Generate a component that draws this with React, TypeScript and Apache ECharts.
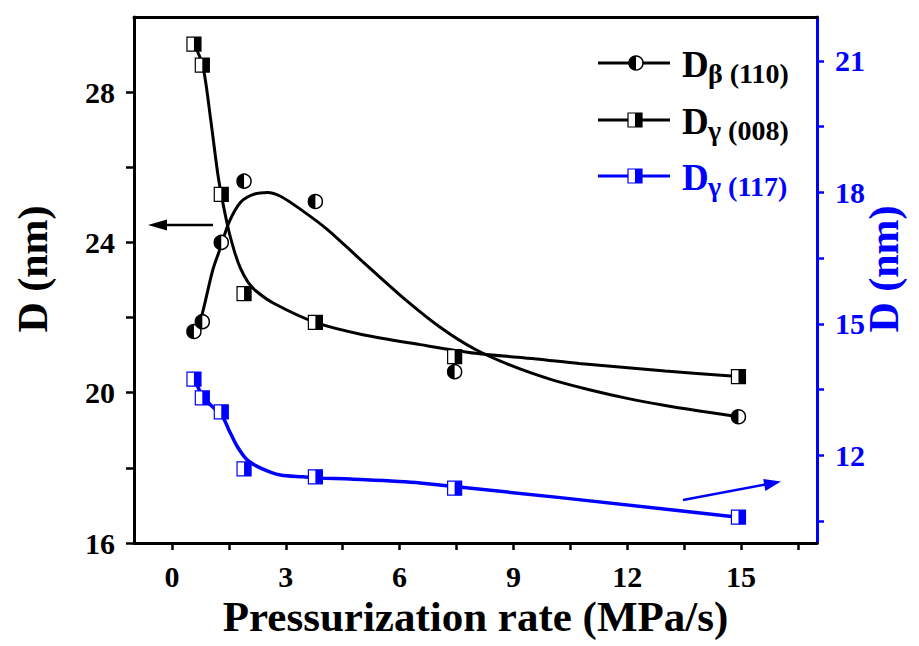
import React, { useEffect, useRef } from 'react';
import * as echarts from 'echarts';

// Measured points
const rateB110 = [0.58, 0.8, 1.3, 1.9, 3.78, 7.45, 14.93];
const dB110 = [21.63, 21.89, 24.0, 25.63, 25.09, 20.56, 19.36];
const rateG008 = [0.58, 0.8, 1.3, 1.9, 3.78, 7.45, 14.93];
const dG008 = [29.28, 28.72, 25.28, 22.64, 21.87, 20.96, 20.43];
const rateG117 = [0.58, 0.8, 1.3, 1.9, 3.78, 7.45, 14.93];
const dG117 = [13.74, 13.31, 12.99, 11.69, 11.51, 11.25, 10.59];

// Fitted curves
const fitB110X = [0.68, 0.89, 1.08, 1.29, 1.5, 1.81, 2.15, 2.52, 2.86, 3.39, 4.09, 4.96, 6.01, 7.06, 8.0, 9.0, 10.0, 11.0, 12.0, 13.0, 14.0, 14.93];
const fitB110Y = [21.6, 22.48, 23.28, 23.89, 24.53, 25.07, 25.28, 25.33, 25.23, 24.88, 24.35, 23.55, 22.6, 21.75, 21.15, 20.7, 20.35, 20.08, 19.85, 19.66, 19.5, 19.36];
const fitG008X = [0.58, 0.81, 1.02, 1.23, 1.47, 1.65, 1.81, 2.0, 2.2, 2.68, 3.78, 5.0, 6.54, 8.0, 9.6, 10.73, 13.0, 14.93];
const fitG008Y = [29.28, 28.72, 27.28, 25.68, 24.43, 23.75, 23.3, 22.95, 22.72, 22.38, 21.87, 21.55, 21.28, 21.05, 20.9, 20.78, 20.58, 20.43];
const fitG117X = [0.58, 0.84, 1.02, 1.34, 1.5, 1.73, 1.99, 2.34, 2.86, 3.46, 3.91, 4.7, 6.54, 14.93];
const fitG117Y = [13.74, 13.31, 13.15, 12.87, 12.58, 12.19, 11.89, 11.71, 11.55, 11.51, 11.48, 11.46, 11.37, 10.59];

// Axis ticks / labels
const xTicks = [0, 1.5, 3, 4.5, 6, 7.5, 9, 10.5, 12, 13.5, 15, 16.5];
const xLabels = [0, 3, 6, 9, 12, 15];
const yLeftTicks = [16, 18, 20, 22, 24, 26, 28];
const yLeftLabels = [16, 20, 24, 28];
const yRightTicks = [10.5, 12, 13.5, 15, 16.5, 18, 19.5, 21];
const yRightLabels = [12, 15, 18, 21];

const BLUE = '#0000ff';
const FONT = '"Liberation Serif", "Times New Roman", serif';

const zip = (xs: number[], ys: number[]) => xs.map((x, i) => [x, ys[i]]);

const circleMarker = (color: string, cx: number, cy: number, r = 7) => ({
  type: 'group',
  children: [
    { type: 'circle', shape: { cx, cy, r }, style: { fill: '#fff', stroke: color, lineWidth: 1.5 } },
    {
      type: 'sector',
      shape: { cx, cy, r0: 0, r, startAngle: Math.PI / 2, endAngle: Math.PI * 1.5, clockwise: true },
      style: { fill: color },
    },
  ],
});

const squareMarker = (color: string, cx: number, cy: number, s = 14) => ({
  type: 'group',
  children: [
    { type: 'rect', shape: { x: cx - s / 2, y: cy - s / 2, width: s, height: s }, style: { fill: '#fff', stroke: color, lineWidth: 1.2 } },
    { type: 'rect', shape: { x: cx, y: cy - s / 2, width: s / 2, height: s }, style: { fill: color } },
  ],
});

export default function App() {
  const ref = useRef<HTMLDivElement>(null);
  useEffect(() => {
    document.body.style.margin = '0';
    const chart = echarts.init(ref.current!, null, { renderer: 'svg' });

    const tickLabel = (color: string) => ({
      fontSize: 30,
      fontWeight: 'bold',
      fontFamily: FONT,
      color,
    });

    const legendRow = (y: number, color: string, kind: 'circle' | 'square', sub: string) => [
      { type: 'line', shape: { x1: 598, y1: y, x2: 670, y2: y }, style: { stroke: color, lineWidth: 3 } },
      kind === 'circle' ? circleMarker(color, 636, y) : squareMarker(color, 635, y),
      {
        type: 'text',
        x: 682,
        y: y + 1,
        style: { text: 'D', fontSize: 37, fontWeight: 'bold', fontFamily: FONT, fill: color, verticalAlign: 'middle', align: 'left' },
      },
      {
        type: 'text',
        x: 708,
        y: y + 10,
        style: { text: sub, fontSize: 28, fontWeight: 'bold', fontFamily: FONT, fill: color, verticalAlign: 'middle', align: 'left' },
      },
    ];

    chart.setOption({
      animation: false,
      backgroundColor: '#fff',
      grid: { left: 134, right: 102, top: 17, bottom: 103, containLabel: false, outerBoundsMode: 'none' },
      xAxis: [
        {
          type: 'value',
          min: -1,
          max: 17,
          position: 'bottom',
          axisLine: { onZero: false, lineStyle: { color: '#000', width: 3 } },
          axisTick: { customValues: xTicks, length: 7, lineStyle: { color: '#000', width: 2.5 } },
          axisLabel: { customValues: xLabels, margin: 18, ...tickLabel('#000') },
          splitLine: { show: false },
          name: 'Pressurization rate (MPa/s)',
          nameLocation: 'middle',
          nameGap: 52,
          nameMoveOverlap: false,
          nameTextStyle: { fontSize: 43, fontWeight: 'bold', fontFamily: FONT, color: '#000' },
        },
        {
          type: 'value',
          min: -1,
          max: 17,
          position: 'top',
          axisLine: { onZero: false, lineStyle: { color: '#000', width: 3 } },
          axisTick: { show: false },
          axisLabel: { show: false },
          splitLine: { show: false },
        },
      ],
      yAxis: [
        {
          type: 'value',
          min: 16,
          max: 30,
          position: 'left',
          axisLine: { onZero: false, lineStyle: { color: '#000', width: 3 } },
          axisTick: { customValues: yLeftTicks, length: 8, lineStyle: { color: '#000', width: 2.5 } },
          axisLabel: { customValues: yLeftLabels, margin: 19, ...tickLabel('#000') },
          splitLine: { show: false },
          name: 'D (nm)',
          nameLocation: 'middle',
          nameRotate: 90,
          nameGap: 80,
          nameMoveOverlap: false,
          nameTextStyle: { fontSize: 42, fontWeight: 'bold', fontFamily: FONT, color: '#000', padding: [0, 0, 0, 22] },
        },
        {
          type: 'value',
          min: 10,
          max: 22,
          position: 'right',
          axisLine: { onZero: false, lineStyle: { color: BLUE, width: 3 } },
          axisTick: { customValues: yRightTicks, length: 7, lineStyle: { color: BLUE, width: 2.5 } },
          axisLabel: { customValues: yRightLabels, margin: 18, ...tickLabel(BLUE) },
          splitLine: { show: false },
          name: 'D (nm)',
          nameLocation: 'middle',
          nameRotate: 90,
          nameGap: 46,
          nameMoveOverlap: false,
          nameTextStyle: { fontSize: 42, fontWeight: 'bold', fontFamily: FONT, color: BLUE, padding: [0, 0, 0, 22] },
        },
      ],
      series: [
        {
          type: 'line',
          name: 'fit β(110)',
          data: zip(fitB110X, fitB110Y),
          smooth: 0.3,
          showSymbol: false,
          lineStyle: { color: '#000', width: 3 },
          z: 2,
        },
        {
          type: 'line',
          name: 'fit γ(008)',
          data: zip(fitG008X, fitG008Y),
          smooth: 0.3,
          showSymbol: false,
          lineStyle: { color: '#000', width: 3 },
          z: 2,
        },
        {
          type: 'line',
          name: 'fit γ(117)',
          yAxisIndex: 1,
          data: zip(fitG117X, fitG117Y),
          smooth: 0.3,
          showSymbol: false,
          lineStyle: { color: BLUE, width: 3.5 },
          z: 2,
        },
        {
          type: 'custom',
          name: 'Dβ(110)',
          data: zip(rateB110, dB110),
          z: 5,
          renderItem: (_p: any, api: any) => {
            const pt = api.coord([api.value(0), api.value(1)]);
            return circleMarker('#000', pt[0], pt[1]);
          },
        },
        {
          type: 'custom',
          name: 'Dγ(008)',
          data: zip(rateG008, dG008),
          z: 5,
          renderItem: (_p: any, api: any) => {
            const pt = api.coord([api.value(0), api.value(1)]);
            return squareMarker('#000', pt[0], pt[1]);
          },
        },
        {
          type: 'custom',
          name: 'Dγ(117)',
          yAxisIndex: 1,
          data: zip(rateG117, dG117),
          z: 5,
          renderItem: (_p: any, api: any) => {
            const pt = api.coord([api.value(0), api.value(1)]);
            return squareMarker(BLUE, pt[0], pt[1]);
          },
        },
      ],
      graphic: [
        // left-pointing arrow (left axis)
        { type: 'line', shape: { x1: 213, y1: 225, x2: 160, y2: 225 }, style: { stroke: '#000', lineWidth: 2.5 } },
        { type: 'polygon', shape: { points: [[148, 225], [167, 219.5], [167, 230.5]] }, style: { fill: '#000' } },
        // right-pointing arrow (right axis)
        { type: 'line', shape: { x1: 683, y1: 500, x2: 768, y2: 484 }, style: { stroke: BLUE, lineWidth: 2.5 } },
        { type: 'polygon', shape: { points: [[781, 481.5], [765.4, 490.9], [763.2, 479.1]] }, style: { fill: BLUE } },
        ...legendRow(63, '#000', 'circle', 'β (110)'),
        ...legendRow(120, '#000', 'square', 'γ (008)'),
        ...legendRow(176, BLUE, 'square', 'γ (117)'),
      ],
    });
    return () => chart.dispose();
  }, []);
  return <div ref={ref} style={{ width: 919, height: 646 }} />;
}
